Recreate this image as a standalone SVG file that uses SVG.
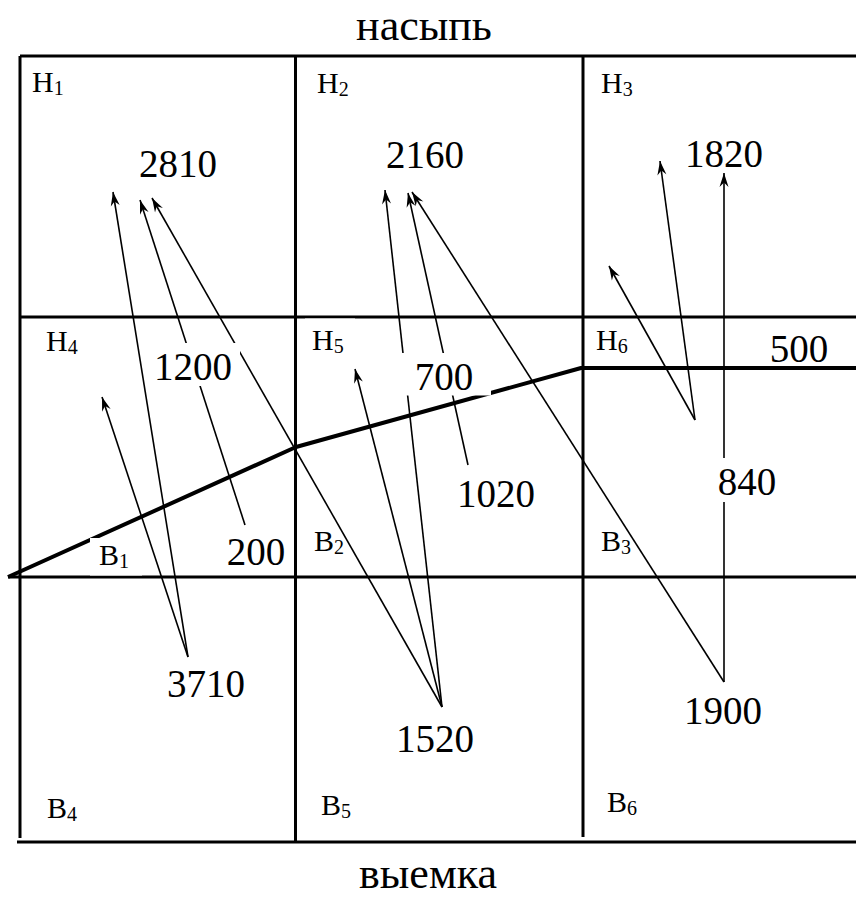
<svg xmlns="http://www.w3.org/2000/svg" width="856" height="904" viewBox="0 0 856 904">
<style>
  .grid { stroke:#000; stroke-width:3; fill:none; }
  .thick { stroke:#000; stroke-width:4; fill:none; stroke-linejoin:round; }
  .arr { stroke:#000; stroke-width:1.6; fill:none; }
  text { font-family:'Liberation Serif','Times New Roman',Tinos,'DejaVu Serif',serif; fill:#000; }
  .num { font-size:39px; text-anchor:middle; }
  .lbl { font-size:30px; }
  .sub { font-size:20px; }
  .head { font-size:44px; text-anchor:middle; }
  .box { fill:#fff; stroke:none; }
</style>
<defs>
  <marker id="ah" viewBox="-15 -5 16 10" markerWidth="16" markerHeight="10" refX="0" refY="0" orient="auto" markerUnits="userSpaceOnUse">
    <path d="M0,0 L-14,-4.5 L-9.5,0 L-14,4.5 Z" fill="#000"/>
  </marker>
</defs>
<rect width="856" height="904" fill="#fff"/>

<g id="headings">
  <text class="head" x="424" y="40" font-family="Liberation Serif, serif">насыпь</text>
  <text class="head" x="428" y="888" font-family="Liberation Serif, serif">выемка</text>
</g>

<g id="grid">
  <line class="grid" x1="20" y1="56" x2="856" y2="56"/>
  <line class="grid" x1="20" y1="317" x2="856" y2="317"/>
  <line class="grid" x1="8" y1="577" x2="856" y2="577"/>
  <line class="grid" x1="17" y1="842" x2="856" y2="842"/>
  <line class="grid" x1="20" y1="56" x2="20" y2="838"/>
  <line class="grid" x1="295.5" y1="56" x2="295.5" y2="842"/>
  <line class="grid" x1="583" y1="56" x2="583" y2="837"/>
</g>

<g id="boundary">
  <polyline class="thick" points="8,577 296,447 581,368 856,368"/>
</g>

<g id="connectors">
  <line class="arr" x1="188" y1="657" x2="113" y2="192" marker-end="url(#ah)"/>
  <line class="arr" x1="188" y1="657" x2="102" y2="397" marker-end="url(#ah)"/>
  <line class="arr" x1="245" y1="525" x2="140" y2="200" marker-end="url(#ah)"/>
  <line class="arr" x1="442" y1="707" x2="152" y2="198" marker-end="url(#ah)"/>
  <line class="arr" x1="442" y1="707" x2="385" y2="190" marker-end="url(#ah)"/>
  <line class="arr" x1="442" y1="707" x2="355" y2="369" marker-end="url(#ah)"/>
  <line class="arr" x1="468" y1="465" x2="408" y2="193" marker-end="url(#ah)"/>
  <line class="arr" x1="724" y1="682" x2="412" y2="192" marker-end="url(#ah)"/>
  <line class="arr" x1="724" y1="682" x2="724" y2="173" marker-end="url(#ah)"/>
  <line class="arr" x1="695" y1="420" x2="660" y2="161" marker-end="url(#ah)"/>
  <line class="arr" x1="695" y1="420" x2="609" y2="266" marker-end="url(#ah)"/>
</g>

<g id="cell-H1"><text class="lbl" x="32" y="92">Н<tspan class="sub" dy="3">1</tspan></text></g>
<g id="cell-H2"><text class="lbl" x="317" y="93">Н<tspan class="sub" dy="3">2</tspan></text></g>
<g id="cell-H3"><text class="lbl" x="601" y="93">Н<tspan class="sub" dy="3">3</tspan></text></g>
<g id="cell-H4"><text class="lbl" x="46" y="351">Н<tspan class="sub" dy="3">4</tspan></text></g>
<g id="cell-H5">
  <rect class="box" x="305" y="318.5" width="50" height="36"/>
  <text class="lbl" x="312" y="350">Н<tspan class="sub" dy="3">5</tspan></text>
</g>
<g id="cell-H6"><text class="lbl" x="596" y="350">Н<tspan class="sub" dy="3">6</tspan></text></g>
<g id="cell-B1">
  <rect class="box" x="90" y="538" width="52" height="37.5"/>
  <text class="lbl" x="99" y="565">В<tspan class="sub" dy="3">1</tspan></text>
</g>
<g id="cell-B2"><text class="lbl" x="314" y="551">В<tspan class="sub" dy="3">2</tspan></text></g>
<g id="cell-B3"><text class="lbl" x="601" y="551">В<tspan class="sub" dy="3">3</tspan></text></g>
<g id="cell-B4"><text class="lbl" x="47" y="818">В<tspan class="sub" dy="3">4</tspan></text></g>
<g id="cell-B5"><text class="lbl" x="321" y="815">В<tspan class="sub" dy="3">5</tspan></text></g>
<g id="cell-B6"><text class="lbl" x="607" y="812">В<tspan class="sub" dy="3">6</tspan></text></g>

<g id="values">
  <text class="num" x="178" y="177">2810</text>
  <text class="num" x="425" y="168">2160</text>
  <text class="num" x="724" y="167">1820</text>
  <g id="v1200">
    <rect class="box" x="150" y="343" width="90" height="43"/>
    <text class="num" x="193" y="380">1200</text>
  </g>
  <text class="num" x="256" y="565">200</text>
  <g id="v700">
    <rect class="box" x="400" y="353" width="91" height="42.5"/>
    <text class="num" x="444" y="390">700</text>
  </g>
  <text class="num" x="496" y="507">1020</text>
  <text class="num" x="799" y="362">500</text>
  <g id="v840">
    <rect class="box" x="708" y="458" width="78" height="44"/>
    <text class="num" x="747" y="495">840</text>
  </g>
  <text class="num" x="206" y="697">3710</text>
  <text class="num" x="435" y="752">1520</text>
  <text class="num" x="723" y="724">1900</text>
</g>
</svg>
